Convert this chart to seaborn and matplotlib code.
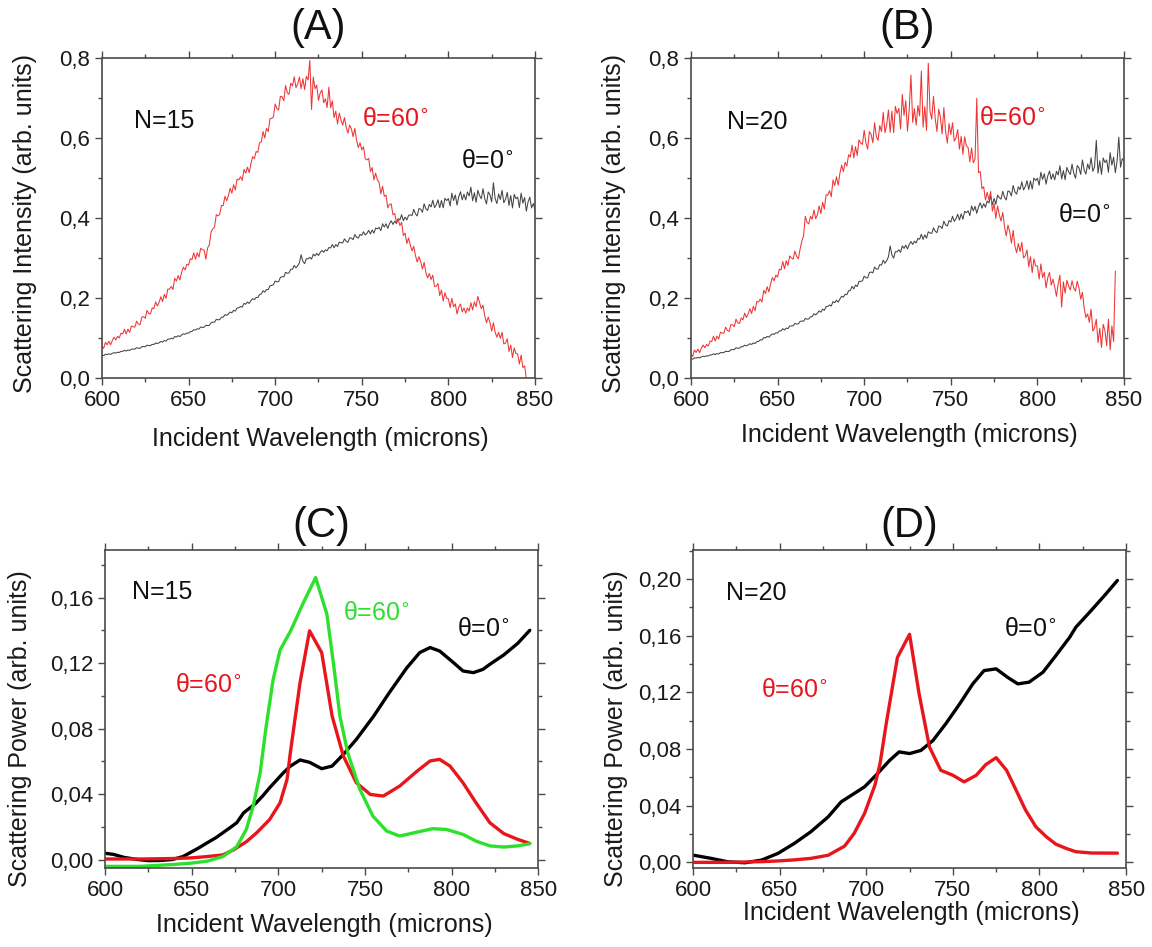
import numpy as np
import matplotlib
matplotlib.use("Agg")
import matplotlib.pyplot as plt
from matplotlib.ticker import MultipleLocator, FuncFormatter
import seaborn as sns

# ---------------- measured spectra (1 nm steps from 600 nm) ----------------
a_red = [0.080, 0.075, 0.090, 0.084, 0.093, 0.084, 0.095, 0.103, 0.096, 0.105,
         0.101, 0.113, 0.111, 0.123, 0.111, 0.123, 0.115, 0.131, 0.129, 0.128,
         0.143, 0.136, 0.134, 0.153, 0.154, 0.150, 0.170, 0.162, 0.161, 0.176,
         0.174, 0.191, 0.181, 0.190, 0.204, 0.192, 0.210, 0.200, 0.223, 0.223,
         0.230, 0.222, 0.250, 0.243, 0.257, 0.246, 0.265, 0.278, 0.271, 0.285,
         0.283, 0.299, 0.297, 0.314, 0.298, 0.314, 0.303, 0.325, 0.322, 0.320,
         0.298, 0.326, 0.334, 0.366, 0.374, 0.378, 0.409, 0.406, 0.410, 0.432,
         0.432, 0.455, 0.444, 0.457, 0.475, 0.463, 0.484, 0.471, 0.498, 0.496,
         0.504, 0.495, 0.522, 0.513, 0.528, 0.514, 0.537, 0.554, 0.549, 0.567,
         0.565, 0.589, 0.591, 0.617, 0.601, 0.625, 0.617, 0.649, 0.650, 0.654,
         0.686, 0.674, 0.671, 0.705, 0.704, 0.694, 0.732, 0.714, 0.710, 0.738,
         0.731, 0.754, 0.727, 0.736, 0.753, 0.724, 0.749, 0.722, 0.755, 0.746,
         0.795, 0.672, 0.753, 0.724, 0.733, 0.695, 0.713, 0.721, 0.689, 0.699,
         0.677, 0.728, 0.676, 0.694, 0.652, 0.668, 0.636, 0.663, 0.646, 0.633,
         0.652, 0.628, 0.613, 0.633, 0.624, 0.604, 0.625, 0.595, 0.577, 0.589,
         0.571, 0.579, 0.549, 0.546, 0.550, 0.517, 0.527, 0.496, 0.513, 0.496,
         0.490, 0.461, 0.480, 0.455, 0.458, 0.426, 0.435, 0.436, 0.409, 0.412,
         0.391, 0.398, 0.382, 0.390, 0.357, 0.363, 0.337, 0.351, 0.333, 0.319,
         0.330, 0.307, 0.291, 0.304, 0.292, 0.273, 0.290, 0.265, 0.251, 0.262,
         0.247, 0.258, 0.230, 0.230, 0.237, 0.207, 0.221, 0.193, 0.214, 0.200,
         0.199, 0.177, 0.200, 0.179, 0.186, 0.161, 0.178, 0.186, 0.166, 0.176,
         0.163, 0.176, 0.168, 0.189, 0.171, 0.191, 0.179, 0.205, 0.190, 0.174,
         0.183, 0.156, 0.139, 0.153, 0.140, 0.118, 0.139, 0.115, 0.103, 0.115,
         0.100, 0.115, 0.086, 0.088, 0.099, 0.067, 0.083, 0.052, 0.076, 0.062,
         0.061, 0.036, 0.058, 0.027, 0.031, 0.000]

a_black = [0.0575, 0.0567, 0.0602, 0.0593, 0.0613, 0.0599, 0.0625, 0.0642, 0.0632, 0.0652,
           0.0647, 0.0674, 0.0674, 0.0703, 0.0681, 0.0708, 0.0696, 0.0731, 0.0730, 0.0733,
           0.0765, 0.0753, 0.0751, 0.0790, 0.0794, 0.0788, 0.0830, 0.0817, 0.0817, 0.0849,
           0.0847, 0.0883, 0.0869, 0.0891, 0.0921, 0.0906, 0.0944, 0.0930, 0.0977, 0.0981,
           0.1001, 0.0988, 0.1045, 0.1033, 0.1065, 0.1043, 0.1086, 0.1114, 0.1100, 0.1132,
           0.1127, 0.1168, 0.1172, 0.1215, 0.1207, 0.1239, 0.1230, 0.1285, 0.1272, 0.1278,
           0.1328, 0.1318, 0.1324, 0.1389, 0.1404, 0.1403, 0.1474, 0.1462, 0.1470, 0.1527,
           0.1532, 0.1590, 0.1573, 0.1609, 0.1658, 0.1638, 0.1699, 0.1682, 0.1756, 0.1764,
           0.1798, 0.1779, 0.1872, 0.1854, 0.1907, 0.1873, 0.1942, 0.1991, 0.1968, 0.2022,
           0.2020, 0.2095, 0.2110, 0.2189, 0.2156, 0.2219, 0.2217, 0.2312, 0.2323, 0.2342,
           0.2433, 0.2413, 0.2417, 0.2522, 0.2542, 0.2537, 0.2651, 0.2626, 0.2636, 0.2725,
           0.2728, 0.2821, 0.2763, 0.2814, 0.2889, 0.3090, 0.2924, 0.2867, 0.2990, 0.2986,
           0.3025, 0.2981, 0.3105, 0.3060, 0.3124, 0.3071, 0.3144, 0.3196, 0.3151, 0.3215,
           0.3189, 0.3270, 0.3260, 0.3347, 0.3265, 0.3346, 0.3295, 0.3405, 0.3390, 0.3386,
           0.3487, 0.3426, 0.3399, 0.3512, 0.3507, 0.3467, 0.3594, 0.3526, 0.3506, 0.3598,
           0.3572, 0.3665, 0.3583, 0.3627, 0.3699, 0.3610, 0.3710, 0.3628, 0.3756, 0.3737,
           0.3773, 0.3692, 0.3864, 0.3783, 0.3865, 0.3748, 0.3865, 0.3938, 0.3848, 0.3930,
           0.3871, 0.3991, 0.3961, 0.4090, 0.3940, 0.4030, 0.3960, 0.4070, 0.4090, 0.4070,
           0.4225, 0.4112, 0.4059, 0.4246, 0.4229, 0.4152, 0.4363, 0.4238, 0.4197, 0.4348,
           0.4285, 0.4452, 0.4269, 0.4338, 0.4463, 0.4266, 0.4447, 0.4264, 0.4501, 0.4444,
           0.4494, 0.4310, 0.4630, 0.4446, 0.4586, 0.4330, 0.4542, 0.4664, 0.4462, 0.4602,
           0.446, 0.466, 0.456, 0.478, 0.444, 0.464, 0.440, 0.470, 0.457, 0.449,
           0.474, 0.449, 0.436, 0.466, 0.459, 0.441, 0.489, 0.449, 0.437, 0.461,
           0.447, 0.470, 0.439, 0.448, 0.465, 0.432, 0.457, 0.426, 0.460, 0.449,
           0.453, 0.427, 0.463, 0.438, 0.452, 0.418, 0.441, 0.453, 0.426, 0.437, 0.422]

b_red = [0.0604, 0.0544, 0.0708, 0.0648, 0.0732, 0.0640, 0.0756, 0.0832, 0.0764, 0.0848,
         0.0806, 0.0930, 0.0919, 0.1052, 0.0933, 0.1057, 0.0983, 0.1152, 0.1132, 0.1130,
         0.128, 0.120, 0.117, 0.134, 0.134, 0.129, 0.148, 0.139, 0.137, 0.151,
         0.146, 0.163, 0.152, 0.161, 0.174, 0.162, 0.180, 0.169, 0.192, 0.191,
         0.198, 0.191, 0.220, 0.212, 0.229, 0.216, 0.237, 0.252, 0.244, 0.258,
         0.253, 0.273, 0.271, 0.292, 0.274, 0.294, 0.282, 0.306, 0.301, 0.298,
         0.318, 0.305, 0.299, 0.323, 0.343, 0.356, 0.405, 0.390, 0.386, 0.405,
         0.398, 0.421, 0.399, 0.409, 0.431, 0.412, 0.440, 0.423, 0.459, 0.458,
         0.469, 0.454, 0.496, 0.482, 0.504, 0.483, 0.513, 0.533, 0.517, 0.540,
         0.531, 0.559, 0.553, 0.583, 0.551, 0.579, 0.557, 0.596, 0.588, 0.585,
         0.620, 0.589, 0.573, 0.617, 0.610, 0.589, 0.639, 0.605, 0.595, 0.632,
         0.617, 0.665, 0.614, 0.634, 0.671, 0.615, 0.668, 0.614, 0.680, 0.662,
         0.675, 0.623, 0.710, 0.657, 0.694, 0.618, 0.672, 0.758, 0.640, 0.674,
         0.633, 0.682, 0.656, 0.768, 0.628, 0.679, 0.620, 0.788, 0.667, 0.648,
         0.705, 0.650, 0.617, 0.673, 0.653, 0.611, 0.677, 0.617, 0.588, 0.637,
         0.609, 0.639, 0.593, 0.601, 0.622, 0.573, 0.605, 0.560, 0.604, 0.581,
         0.577, 0.541, 0.576, 0.539, 0.549, 0.700, 0.514, 0.517, 0.474, 0.479,
         0.446, 0.465, 0.446, 0.467, 0.418, 0.437, 0.400, 0.431, 0.409, 0.393,
         0.415, 0.380, 0.356, 0.383, 0.367, 0.338, 0.370, 0.331, 0.314, 0.337,
         0.317, 0.340, 0.301, 0.306, 0.321, 0.279, 0.304, 0.264, 0.299, 0.281,
         0.281, 0.248, 0.286, 0.252, 0.265, 0.226, 0.252, 0.265, 0.233, 0.248,
         0.228, 0.205, 0.236, 0.258, 0.178, 0.241, 0.213, 0.245, 0.231, 0.221,
         0.244, 0.226, 0.218, 0.243, 0.226, 0.198, 0.215, 0.176, 0.152, 0.161,
         0.140, 0.173, 0.118, 0.126, 0.148, 0.089, 0.125, 0.077, 0.135, 0.119,
         0.082, 0.148, 0.071, 0.131, 0.092, 0.268]

b_black = [0.0485, 0.0477, 0.0512, 0.0504, 0.0524, 0.0510, 0.0535, 0.0553, 0.0544, 0.0563,
           0.0558, 0.0585, 0.0585, 0.0614, 0.0592, 0.0619, 0.0607, 0.0643, 0.0641, 0.0643,
           0.0679, 0.0670, 0.0672, 0.0713, 0.0720, 0.0718, 0.0763, 0.0752, 0.0755, 0.0790,
           0.0791, 0.0829, 0.0812, 0.0834, 0.0865, 0.0846, 0.0886, 0.0869, 0.0918, 0.0921,
           0.0965, 0.0956, 0.1019, 0.1010, 0.1048, 0.1029, 0.1076, 0.1111, 0.1100, 0.1137,
           0.1133, 0.1183, 0.1187, 0.1240, 0.1208, 0.1258, 0.1242, 0.1307, 0.1308, 0.1316,
           0.1372, 0.1358, 0.1360, 0.1422, 0.1433, 0.1428, 0.1496, 0.1480, 0.1484, 0.1537,
           0.1544, 0.1615, 0.1586, 0.1629, 0.1687, 0.1654, 0.1729, 0.1700, 0.1791, 0.1797,
           0.1835, 0.1807, 0.1919, 0.1891, 0.1953, 0.1905, 0.1985, 0.2052, 0.2029, 0.2101,
           0.2092, 0.2189, 0.2196, 0.2299, 0.2234, 0.2331, 0.2296, 0.2423, 0.2424, 0.2437,
           0.2554, 0.2514, 0.2509, 0.2645, 0.2658, 0.2636, 0.2782, 0.2732, 0.2731, 0.2842,
           0.2832, 0.2954, 0.2876, 0.2942, 0.3040, 0.3310, 0.3084, 0.3006, 0.3168, 0.3162,
           0.3214, 0.3151, 0.3311, 0.3248, 0.3329, 0.3233, 0.3346, 0.3419, 0.3347, 0.3428,
           0.3383, 0.3497, 0.3477, 0.3601, 0.3472, 0.3587, 0.3504, 0.3664, 0.3634, 0.3623,
           0.3763, 0.3678, 0.3642, 0.3807, 0.3801, 0.3746, 0.3930, 0.3835, 0.3809, 0.3944,
           0.3906, 0.4052, 0.3922, 0.3991, 0.4102, 0.3958, 0.4111, 0.3978, 0.4175, 0.4140,
           0.4189, 0.4067, 0.4309, 0.4187, 0.4299, 0.4125, 0.4289, 0.4388, 0.4253, 0.4365,
           0.4276, 0.4435, 0.4385, 0.4558, 0.4340, 0.4499, 0.4351, 0.4580, 0.4516, 0.4479,
           0.4674, 0.4529, 0.4458, 0.4688, 0.4662, 0.4562, 0.4821, 0.4660, 0.4605, 0.4790,
           0.4718, 0.4914, 0.4710, 0.4794, 0.4942, 0.4722, 0.4934, 0.4730, 0.5006, 0.4946,
           0.5004, 0.4826, 0.5152, 0.4974, 0.5115, 0.4855, 0.5063, 0.5181, 0.4975, 0.5111,
           0.4965, 0.5175, 0.5085, 0.5315, 0.4985, 0.5195, 0.4965, 0.5275, 0.5165, 0.5095,
           0.5356, 0.5124, 0.5002, 0.5320, 0.5264, 0.5098, 0.5460, 0.5206, 0.5106, 0.5358,
           0.5230, 0.5515, 0.5175, 0.5285, 0.5950, 0.5130, 0.5440, 0.5100, 0.5510, 0.5395,
           0.546, 0.515, 0.564, 0.533, 0.553, 0.514, 0.544, 0.603, 0.528, 0.549, 0.544]

# ---------------- computed scattering power ----------------
c_black_x = [600, 605, 611, 618, 625, 632, 639, 645, 649, 654, 659, 664, 668, 672,
             676, 680, 684, 687, 691, 695, 699, 703, 707, 712.5, 718, 725, 731,
             737.5, 745, 755, 764, 774, 781.5, 787.5, 793, 801, 806.5, 812.5,
             818, 822, 830, 838, 845]
c_black_y = [0.004, 0.0033, 0.0015, 0.0003, -0.0005, -0.0004, 0.0002, 0.002,
             0.0043, 0.0072, 0.0104, 0.0135, 0.0165, 0.0195, 0.0226, 0.0287,
             0.032, 0.0345, 0.039, 0.044, 0.0486, 0.0532, 0.0572, 0.0609,
             0.0595, 0.0556, 0.0572, 0.0643, 0.0735, 0.0877, 0.102, 0.117,
             0.1264, 0.1295, 0.1274, 0.1203, 0.1152, 0.1142, 0.1162, 0.1193,
             0.125, 0.132, 0.140]

c_red_x = [600, 620, 640, 650, 659, 668, 674, 681.5, 687.5, 695, 701, 705, 707,
           712.5, 718, 725, 731, 737.5, 745, 753, 760.5, 770, 780, 787.5, 793,
           799, 806.5, 814, 822, 830, 838, 845]
c_red_y = [0.0005, 0.0005, 0.0008, 0.0012, 0.002, 0.003, 0.006, 0.011, 0.0165,
           0.0246, 0.0348, 0.049, 0.066, 0.108, 0.1397, 0.1264, 0.0877, 0.0633,
           0.047, 0.0399, 0.0389, 0.045, 0.0541, 0.0603, 0.0613, 0.0572, 0.047,
           0.0348, 0.0226, 0.016, 0.0125, 0.010]

c_green_x = [600, 620, 640, 650, 659, 668, 676, 681.5, 685.5, 689.5, 693, 697,
             701, 707, 714.5, 721.5, 728, 732, 735.5, 740, 747, 754.5, 762.5,
             770, 780, 789, 797, 806.5, 814, 822, 830, 838, 845]
c_green_y = [-0.004, -0.004, -0.0028, -0.002, -0.0008, 0.002, 0.008, 0.0185,
             0.0328, 0.053, 0.0816, 0.110, 0.128, 0.1395, 0.157, 0.1722, 0.1498,
             0.118, 0.0877, 0.0653, 0.043, 0.0267, 0.0175, 0.0145, 0.0169,
             0.019, 0.0185, 0.0155, 0.0114, 0.0085, 0.0078, 0.0085, 0.0098]

d_black_x = [600, 610.5, 620, 630, 639.5, 649, 658.5, 668, 678, 685.5, 691.5,
             699, 706, 713.5, 719, 725, 731.5, 738.5, 746, 754, 761.5, 768, 775,
             781.5, 787.5, 794, 802, 809.5, 817.5, 821, 830, 838, 845]
d_black_y = [0.0051, 0.0028, 0.0004, -0.0003, 0.0016, 0.0063, 0.0134, 0.0216,
             0.0321, 0.0427, 0.0474, 0.0533, 0.062, 0.072, 0.078, 0.0768, 0.079,
             0.086, 0.098, 0.112, 0.126, 0.1354, 0.1366, 0.1307, 0.126, 0.1272,
             0.1342, 0.146, 0.159, 0.166, 0.178, 0.189, 0.199]

d_red_x = [600, 620, 640, 649, 658, 668, 678, 687.5, 693, 699, 705, 708, 711.5,
           718, 725, 730.5, 736.5, 743, 750, 756.5, 763.5, 769, 775, 781, 786.5,
           792, 798, 804, 809.5, 815.5, 821, 830, 845]
d_red_y = [0.0, 0.0, 0.0005, 0.001, 0.0017, 0.0028, 0.005, 0.0115, 0.0204,
           0.0345, 0.0545, 0.070, 0.0977, 0.1447, 0.161, 0.119, 0.0814, 0.065,
           0.0615, 0.0568, 0.0615, 0.069, 0.0739, 0.065, 0.051, 0.0368, 0.025,
           0.018, 0.0128, 0.0098, 0.0075, 0.0066, 0.0065]

panel_titles = ["(A)", "(B)", "(C)", "(D)"]
x_label = "Incident Wavelength (microns)"
y_label_top = "Scattering Intensity (arb. units)"
y_label_bottom = "Scattering Power (arb. units)"

# ---------------- styling ----------------
sns.set_theme(style="ticks")
plt.rcParams["font.family"] = ["Liberation Sans", "DejaVu Sans"]
plt.rcParams["mathtext.fontset"] = "dejavusans"

RED_THIN = "#f03434"
GRAY_THIN = "#444444"
RED = "#e8161c"
GREEN = "#2ee02e"
BLACK = "#000000"
SPINE = "#4a4a4a"

fig = plt.figure(figsize=(11.52, 9.47), dpi=100)
ax_a = fig.add_axes([0.0885, 0.6005, 0.3759, 0.3379])
ax_b = fig.add_axes([0.5998, 0.6005, 0.3759, 0.3379])
ax_c = fig.add_axes([0.0911, 0.0834, 0.3763, 0.3358])
ax_d = fig.add_axes([0.6016, 0.0834, 0.3759, 0.3358])


def comma_fmt(decimals):
    return FuncFormatter(lambda v, p: f"{v:.{decimals}f}".replace(".", ","))


def style_axis(ax, ylim, ymajor, yminor, decimals):
    ax.set_xlim(600, 850)
    ax.set_ylim(*ylim)
    ax.xaxis.set_major_locator(MultipleLocator(50))
    ax.xaxis.set_minor_locator(MultipleLocator(25))
    ax.yaxis.set_major_locator(MultipleLocator(ymajor))
    ax.yaxis.set_minor_locator(MultipleLocator(yminor))
    ax.yaxis.set_major_formatter(comma_fmt(decimals))
    for s in ax.spines.values():
        s.set_visible(True)
        s.set_color(SPINE)
        s.set_linewidth(1.2)
    ax.tick_params(which="both", direction="out", top=True, right=True,
                   color=SPINE, width=1.0, labelsize=16, labelcolor="#1a1a1a")
    ax.tick_params(which="major", length=5)
    ax.tick_params(which="minor", length=3)
    ax.set_facecolor("white")


def thin_trace(ax, values, color):
    wl = np.arange(600, 600 + len(values))
    sns.lineplot(x=wl, y=values, ax=ax, color=color, linewidth=0.75,
                 estimator=None, sort=False)


def thick_trace(ax, xs, ys, color):
    sns.lineplot(x=xs, y=ys, ax=ax, color=color, linewidth=2.4,
                 estimator=None, sort=False)


# (A)
thin_trace(ax_a, a_black, GRAY_THIN)
thin_trace(ax_a, a_red, RED_THIN)
style_axis(ax_a, (0, 0.8), 0.2, 0.1, 1)
ax_a.text(618.5, 0.643, "N=15", fontsize=18, va="center", color="#111111")
ax_a.text(750, 0.648, r"θ=60$^{\circ}$", fontsize=18, va="center", color=RED)
ax_a.text(807, 0.543, r"θ=0$^{\circ}$", fontsize=18, va="center", color="#111111")

# (B)
thin_trace(ax_b, b_black, GRAY_THIN)
thin_trace(ax_b, b_red, RED_THIN)
style_axis(ax_b, (0, 0.8), 0.2, 0.1, 1)
ax_b.text(621, 0.641, "N=20", fontsize=18, va="center", color="#111111")
ax_b.text(766, 0.650, r"θ=60$^{\circ}$", fontsize=18, va="center", color=RED)
ax_b.text(812, 0.408, r"θ=0$^{\circ}$", fontsize=18, va="center", color="#111111")

# (C)
thick_trace(ax_c, c_black_x, c_black_y, BLACK)
thick_trace(ax_c, c_red_x, c_red_y, RED)
thick_trace(ax_c, c_green_x, c_green_y, GREEN)
style_axis(ax_c, (-0.005, 0.189), 0.04, 0.02, 2)
ax_c.text(615.5, 0.1635, "N=15", fontsize=18, va="center", color="#111111")
ax_c.text(640.5, 0.1066, r"θ=60$^{\circ}$", fontsize=18, va="center", color=RED)
ax_c.text(737.3, 0.1504, r"θ=60$^{\circ}$", fontsize=18, va="center", color=GREEN)
ax_c.text(802.8, 0.1406, r"θ=0$^{\circ}$", fontsize=18, va="center", color="#111111")

# (D)
thick_trace(ax_d, d_black_x, d_black_y, BLACK)
thick_trace(ax_d, d_red_x, d_red_y, RED)
style_axis(ax_d, (-0.004, 0.2205), 0.04, 0.02, 2)
ax_d.text(619, 0.190, "N=20", fontsize=18, va="center", color="#111111")
ax_d.text(639.3, 0.1214, r"θ=60$^{\circ}$", fontsize=18, va="center", color=RED)
ax_d.text(779.6, 0.165, r"θ=0$^{\circ}$", fontsize=18, va="center", color="#111111")

# titles and axis labels
title_y = {ax_a: 1.095, ax_b: 1.095, ax_c: 1.075, ax_d: 1.075}
ylab_pos = {ax_a: (-0.150, 0.485), ax_b: (-0.150, 0.485),
            ax_c: (-0.169, 0.437), ax_d: (-0.150, 0.437)}
xlab_y = {ax_a: -0.152, ax_b: -0.140, ax_c: -0.142, ax_d: -0.104}
for ax, title in zip([ax_a, ax_b, ax_c, ax_d], panel_titles):
    ax.text(0.5, title_y[ax], title, transform=ax.transAxes, ha="center",
            va="center", fontsize=30, color="#111111")
    ax.set_xlabel(x_label, fontsize=18, color="#1a1a1a")
    ax.xaxis.set_label_coords(0.505, xlab_y[ax])
    ylab = y_label_top if ax in (ax_a, ax_b) else y_label_bottom
    ax.set_ylabel(ylab, fontsize=18, color="#1a1a1a")
    ax.yaxis.set_label_coords(*ylab_pos[ax])

fig.savefig("out.png", dpi=100, facecolor="white")
